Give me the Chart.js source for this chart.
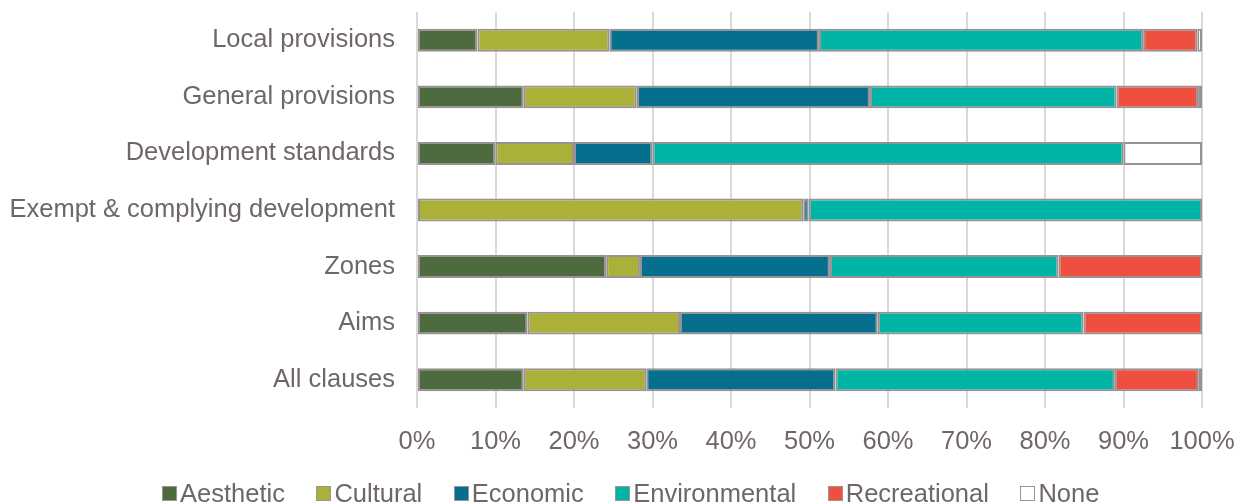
<!DOCTYPE html>
<html>
<head>
<meta charset="utf-8">
<script src="https://cdn.jsdelivr.net/npm/chart.js@4"></script>
<style>
  html, body { margin: 0; padding: 0; background: #ffffff; }
  #wrap { position: relative; width: 1248px; height: 504px; }
  #legend {
    position: absolute; left: 162px; top: 478px;
    display: flex; align-items: center;
    font-family: "Liberation Sans", Arial, sans-serif; font-size: 25.5px; color: #6e6669;
    line-height: 30px;
  }
  #legend .item { display: flex; align-items: center; margin-right: 31.5px; }
  #legend .box { width: 13px; height: 13px; border: 1.5px solid #9c9497; margin-right: 3px; }
</style>
</head>
<body>
<div id="wrap">
  <canvas id="chart" width="1248" height="504"></canvas>
  <div id="legend"></div>
</div>
<script>
// Categories (top to bottom)
const categories = ["Local provisions", "General provisions", "Development standards",
  "Exempt & complying development", "Zones", "Aims", "All clauses"];

// Share of clauses per value type (%)
const aesthetic     = [7.7, 13.6, 10, 0, 24.1, 14.1, 13.6];
const cultural      = [16.8, 14.4, 10, 49.2, 4.3, 19.4, 15.6];
const economic      = [26.7, 29.7, 10, 0.7, 24.2, 25.2, 24.1];
const environmental = [41.3, 31.4, 60, 50.1, 29.1, 26.2, 35.6];
const recreational  = [6.9, 10.4, 0, 0, 18.3, 15.1, 10.7];
const none          = [0.6, 0.5, 10, 0, 0, 0, 0.4];

const seriesNames = ["Aesthetic", "Cultural", "Economic", "Environmental", "Recreational", "None"];
const seriesData = [aesthetic, cultural, economic, environmental, recreational, none];
const colors = ["#4e6b40", "#aab038", "#05708e", "#00b5a6", "#ef4f3f", "#ffffff"];

const xTicks = [0, 10, 20, 30, 40, 50, 60, 70, 80, 90, 100];

const textColor = "#6e6669";
const borderGray = "#9a9194";
const font = { family: "'Liberation Sans', Arial, sans-serif", size: 25.5 };

const datasets = seriesNames.map((name, i) => ({
    label: name,
    data: seriesData[i],
    backgroundColor: colors[i],
    borderColor: borderGray,
    borderWidth: 2,
    borderSkipped: false,
    barPercentage: 0.9,
    categoryPercentage: 0.45
}));

new Chart(document.getElementById("chart"), {
    type: "bar",
    data: { labels: categories, datasets: datasets },
    options: {
        indexAxis: "y",
        responsive: false,
        animation: false,
        layout: { padding: { top: 12, right: 46, left: 0, bottom: 0 } },
        plugins: {
            legend: { display: false },
            tooltip: { enabled: false }
        },
        scales: {
            x: {
                stacked: true,
                min: 0,
                max: 100,
                afterBuildTicks: (scale) => { scale.ticks = xTicks.map(v => ({ value: v })); },
                afterFit: (scale) => {
                    scale.height = 96;
                    scale.paddingLeft = 0;
                    scale.paddingRight = 0;
                },
                grid: { color: "#d9d9d9", lineWidth: 2, drawTicks: false },
                border: { display: false },
                ticks: {
                    color: textColor,
                    font: font,
                    padding: 19,
                    callback: (v) => v + "%"
                }
            },
            y: {
                stacked: true,
                afterFit: (scale) => {
                    scale.width = 417;
                    scale.paddingTop = 0;
                    scale.paddingBottom = 0;
                },
                grid: { display: false, drawTicks: false },
                border: { display: false },
                ticks: { color: textColor, font: font, padding: 22 }
            }
        }
    }
});

// HTML legend
const legendEl = document.getElementById("legend");
seriesNames.forEach((name, i) => {
    const item = document.createElement("div");
    item.className = "item";
    const box = document.createElement("span");
    box.className = "box";
    box.style.background = colors[i];
    const label = document.createElement("span");
    label.textContent = name;
    item.appendChild(box);
    item.appendChild(label);
    legendEl.appendChild(item);
});
</script>
</body>
</html>
